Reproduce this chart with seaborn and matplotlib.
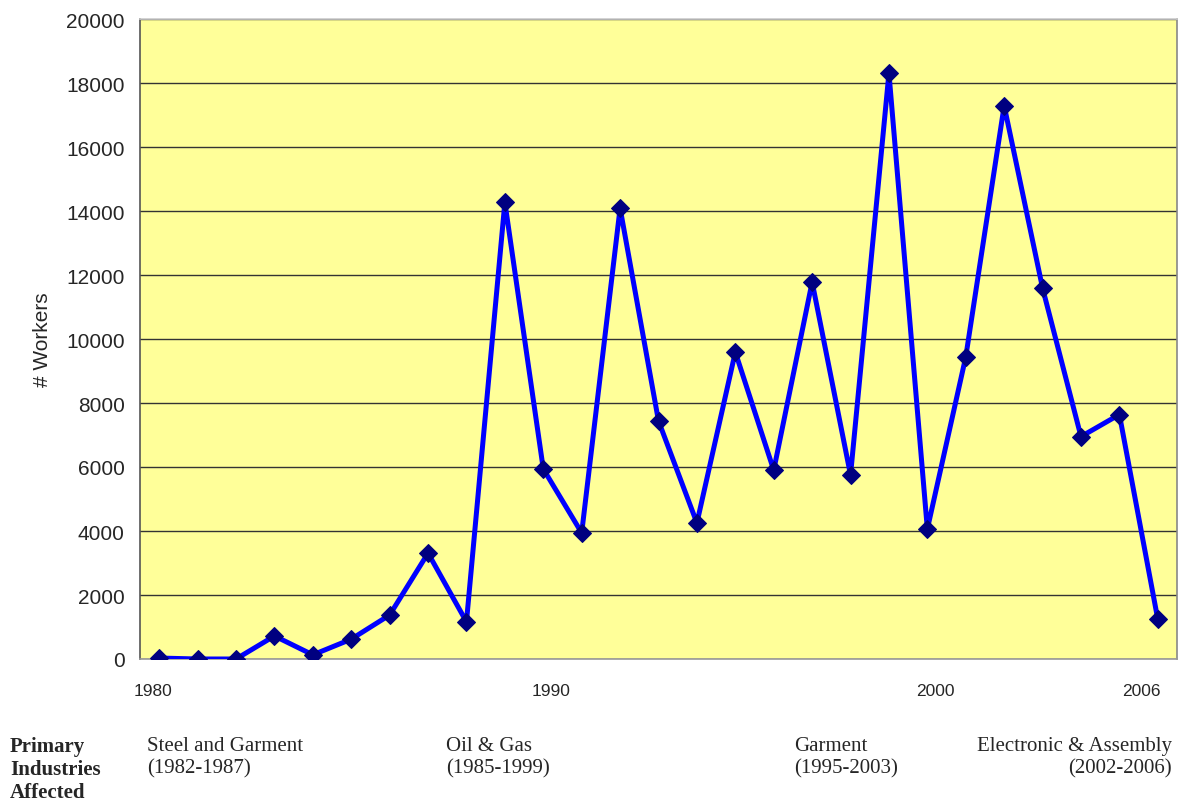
import matplotlib
matplotlib.use("Agg")
import matplotlib.pyplot as plt
import matplotlib.transforms as mtransforms
import seaborn as sns
import pandas as pd

years = list(range(1980, 2007))
workers = [30, 0, 0, 720, 130, 620, 1375, 3310, 1160, 14270, 5940, 3940, 14090,
           7440, 4250, 9590, 5900, 11780, 5750, 18310, 4060, 9440, 17290, 11590,
           6950, 7640, 1240]
tick_years = [1980, 1990, 2000, 2006]
y_ticks = list(range(0, 20001, 2000))
y_label = "# Workers"
row_header = "Primary\nIndustries\nAffected"
industries = [
    ("Steel and Garment\n(1982-1987)", 147, "left"),
    ("Oil & Gas\n(1985-1999)", 446, "left"),
    ("Garment\n(1995-2003)", 794, "left"),
    ("Electronic & Assembly\n(2002-2006)", 1172, "right"),
]

df = pd.DataFrame({"year": years, "workers": workers})

sns.set_style("white")
plt.rcParams['font.family'] = ['Liberation Sans', 'DejaVu Sans']

W, H = 1178, 804
fig = plt.figure(figsize=(W / 100, H / 100), dpi=100)
ax = fig.add_axes([140 / W, (H - 660) / H, 1037 / W, 640 / H])
ax.set_facecolor("#FFFF99")
ax.set_axisbelow(True)

sns.lineplot(data=df, x="year", y="workers", ax=ax, color="#0000FF", linewidth=3.6,
             marker="D", markersize=9, markerfacecolor="#000080",
             markeredgecolor="#000080", zorder=3)

ax.set_xlim(1979.5, 2006.5)
ax.set_ylim(0, 20000)
ax.set_yticks(y_ticks)
ax.set_yticklabels([str(v) for v in y_ticks], fontsize=15)
ax.set_xticks(tick_years)
ax.set_xticklabels([str(v) for v in tick_years], fontsize=12.5)
ax.tick_params(axis="x", length=0, pad=17)
ax.tick_params(axis="y", length=5, width=1.2, color="#555555", direction="out", pad=6)
ax.yaxis.grid(True, color="#333333", linewidth=1.0)
ax.xaxis.grid(False)
ax.set_xlabel("")
ax.set_ylabel(y_label, fontsize=15, labelpad=10)

# small horizontal nudges of the category labels, as in the original rendering
label_shift_px = [-6, 8, 8, -16]
for lbl, dx in zip(ax.get_xticklabels(), label_shift_px):
    lbl.set_transform(lbl.get_transform() + mtransforms.ScaledTranslation(dx / 100, 0, fig.dpi_scale_trans))

for side, c in [("left", "#555555"), ("bottom", "#999999"), ("right", "#888888"), ("top", "#cccccc")]:
    ax.spines[side].set_visible(True)
    ax.spines[side].set_color(c)
    ax.spines[side].set_linewidth(1.2)

serif = ['Liberation Serif', 'DejaVu Serif']
fig.text(10 / W, 1 - 737 / H, row_header, family=serif, fontsize=15, fontweight="bold",
         va="top", ha="left", linespacing=1.2)
for text, xp, ha in industries:
    fig.text(xp / W, 1 - 737 / H, text, family=serif, fontsize=15, va="top", ha=ha,
             linespacing=1.2, multialignment=ha)

fig.savefig("out.png", dpi=100, facecolor="white")
